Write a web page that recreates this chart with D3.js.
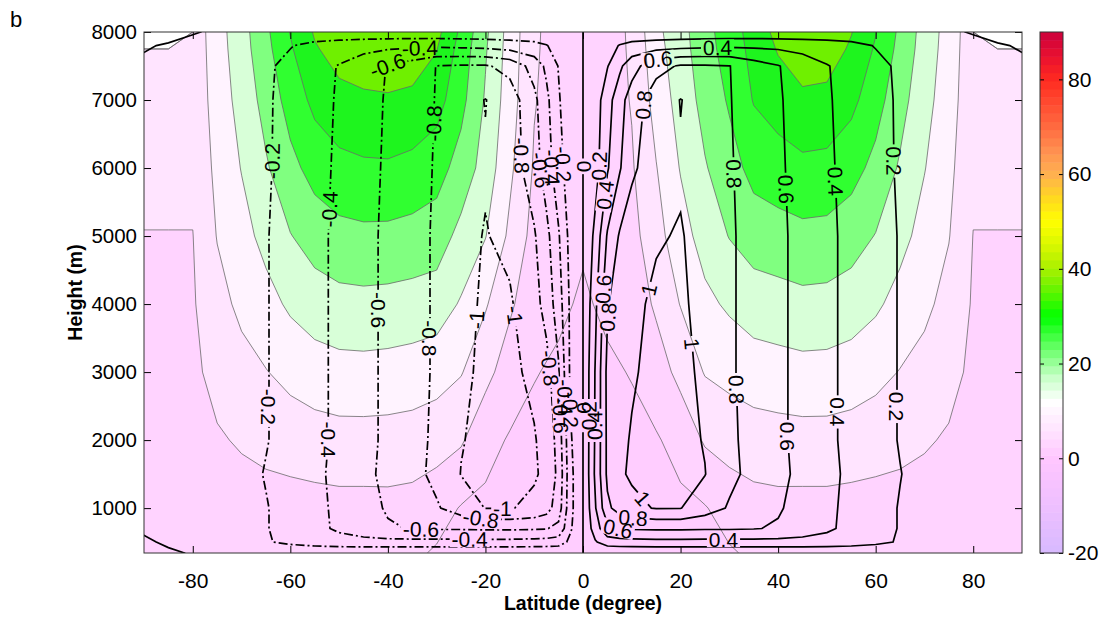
<!DOCTYPE html>
<html>
<head>
<meta charset="utf-8">
<script src="https://cdn.jsdelivr.net/npm/d3@7"></script>
<style>
body { margin: 0; background: #fff; }
text { font-family: "Liberation Sans", Arial, Helvetica, sans-serif; fill: #000; }
</style>
</head>
<body>
<div id="chart"></div>
<script>
// ---------------- values ----------------

// coloured field: grid every 5 degrees, rows from the ground up
const uLats = [-90,-85,-80,-75,-70,-65,-60,-55,-50,-45,-40,-35,-30,-25,-20,-15,-10,-5,0,
               5,10,15,20,25,30,35,40,45,50,55,60,65,70,75,80,85,90];
const uHeights = [340, 1000, 2000, 3000, 4000, 5000, 6000, 7000, 7750, 8000];
const uGrid = [
  [0.4,0.4,0.5,0.8,1,1.2,1.3,1.4,1.5,1.5,1.2,0.8,-0.5,-1.2,-1.8,-2.5,-3.5,-4.5,-6,
   -4.5,-3.5,-2.5,-1.8,-1.2,-0.5,0.8,1.2,1.5,1.5,1.4,1.3,1.2,1,0.8,0.5,0.4,0.4],
  [1.3,1.3,1.5,2,2.6,3,3.2,3.3,3.5,3.5,3.6,3.3,2,-0.3,-0.9,-1.5,-2.3,-3.5,-5,
   -3.5,-2.3,-1.5,-0.9,-0.3,2,3.3,3.6,3.5,3.5,3.3,3.2,3,2.6,2,1.5,1.3,1.3],
  [2.5,2.5,2.8,4.4,5.6,6.5,7.1,7.8,8.2,8.2,8.1,7.8,7,5.6,1.5,-0.4,-1,-2,-3.5,
   -2,-1,-0.4,1.5,5.6,7,7.7,8,8.2,8.2,7.8,7.1,6.5,5.6,4.4,2.8,2.5,2.5],
  [3.5,3.5,3.8,6.8,8.5,9.8,11.5,12.7,13.3,13.4,13.2,12.8,12,10.3,6.5,2.5,0.2,-0.6,-2,
   -0.6,0.2,2.5,6.5,10.3,11.4,12.5,13,13.4,13.3,12.7,11.5,9.8,8.5,6.8,3.8,3.5,3.5],
  [4.3,4.3,4.5,8.5,11,13.3,15.8,17.5,18.4,18.6,18.4,18,17.5,14.5,10.5,5.8,1.8,0.7,-0.5,
   0.7,1.8,5.8,10.2,13.8,15.8,17.5,18,18.6,18.4,17.5,15.8,13.3,11,8.5,4.5,4.3,4.3],
  [4.9,4.9,4.9,10.2,13.3,16.5,19.8,22.2,23.5,23.9,23.8,23.3,22.5,18.5,15.2,9,3.3,1.6,0.5,
   1.6,3.3,8.2,13,17,20.2,22.3,23,23.7,23.5,22.2,19.8,16.5,13.3,10.2,4.9,4.9,4.9],
  [6,6,6,11.2,15.2,19.4,23.6,26.8,28.5,29.2,29.3,28.5,27,23,18,11,4.5,2.2,1.2,
   2.2,4.5,9.8,15.3,19.6,23,26.6,27.8,28.8,28.5,26.8,23.6,19.4,15.2,11.2,6,6,6],
  [6.5,6.5,6.5,12.2,16.8,21.8,27,31.3,33.5,34.2,34.5,34,32,26.5,19.5,12.3,5.3,2.6,1.5,
   2.6,5.3,11.8,17,21.7,25.6,30.3,32.2,34,33.7,31.3,27,21.8,16.8,12.2,6.5,6.5,6.5],
  [6.6,6.6,6.6,12.8,17.8,23.5,29.4,34.5,37,37.9,38,37.6,35.2,28,20.5,12.8,5.7,2.75,1.5,
   2.75,5.7,13.2,17.9,23,27.2,31.5,35.4,37.8,37.4,34.3,29.4,23.5,17.8,12.8,6.6,6.6,6.6],
  [-1000,-1000,6.6,13,18,24,30.2,35.5,38.2,39,39,38.5,36.5,29,21,13,5.8,2.8,1.5,
   2.8,5.8,13.7,18.2,23.3,27.6,32,36.5,39,38.6,35.2,30.2,24,18,13,6.6,-1000,-1000]
];
const uLevels = [-8, 0, 5, 10, 15, 20, 25, 30, 35];
const uColors = ["#ffcdff", "#ffd3ff", "#ffe4ff", "#fff3ff", "#d8ffd8", "#80ff80", "#30ff30", "#1ef51e", "#6ff000"];

// line contours (streamfunction), finer near the equator
const psiLats = [-90,-85,-80,-75,-70,-65,-60,-55,-50,-45,-40,-35,-30,-25,-20,-15,-10,-7.5,-5,-2.5,0,
                 2.5,5,7.5,10,15,20,25,30,35,40,45,50,55,60,65,70,75,80,85,90];
const psiHeights = [340, 500, 700, 1000, 1500, 2000, 3000, 4000, 5000, 6000, 7000, 7500, 7800, 8000];
const psiGrid = [
  [0.04,0.01,-0.005,-0.01,-0.01,-0.01,-0.015,-0.02,-0.02,-0.02,-0.02,-0.02,-0.02,-0.02,-0.02,-0.02,-0.02,-0.02,-0.02,-0.01,0,
   0.01,0.02,0.02,0.02,0.02,0.02,0.02,0.02,0.02,0.02,0.02,0.02,0.02,0.02,0.02,0.015,0.01,0.01,0.01,0.01],
  [0.01,-0.01,-0.05,-0.08,-0.12,-0.18,-0.25,-0.3,-0.33,-0.34,-0.34,-0.34,-0.34,-0.34,-0.34,-0.34,-0.33,-0.32,-0.3,-0.15,0,
   0.18,0.3,0.32,0.33,0.34,0.34,0.34,0.34,0.34,0.34,0.34,0.33,0.3,0.25,0.18,0.12,0.08,0.05,0.03,0.02],
  [-0.01,-0.03,-0.05,-0.09,-0.13,-0.19,-0.27,-0.35,-0.43,-0.5,-0.58,-0.61,-0.62,-0.62,-0.63,-0.63,-0.62,-0.61,-0.55,-0.22,0,
   0.3,0.55,0.61,0.62,0.63,0.63,0.62,0.62,0.61,0.58,0.5,0.43,0.35,0.27,0.19,0.13,0.09,0.05,0.03,0.02],
  [-0.02,-0.03,-0.055,-0.09,-0.13,-0.19,-0.27,-0.35,-0.44,-0.53,-0.62,-0.7,-0.78,-0.9,-1.005,-1.01,-0.96,-0.88,-0.7,-0.25,0,
   0.38,0.76,0.88,0.96,1.01,1.005,0.9,0.78,0.7,0.62,0.53,0.44,0.35,0.27,0.19,0.13,0.09,0.055,0.03,0.02],
  [-0.02,-0.035,-0.06,-0.095,-0.14,-0.21,-0.28,-0.36,-0.45,-0.55,-0.65,-0.74,-0.85,-1.005,-1.05,-1.05,-1.02,-0.96,-0.75,-0.25,0,
   0.43,0.84,0.98,1.02,1.05,1.05,1.005,0.85,0.74,0.65,0.55,0.45,0.36,0.28,0.205,0.14,0.095,0.06,0.035,0.02],
  [-0.02,-0.03,-0.055,-0.09,-0.13,-0.19,-0.27,-0.35,-0.44,-0.54,-0.64,-0.73,-0.84,-0.99,-1.05,-1.05,-1.01,-0.95,-0.72,-0.22,0,
   0.42,0.84,0.97,1.01,1.05,1.05,0.99,0.84,0.73,0.64,0.54,0.44,0.35,0.27,0.19,0.13,0.09,0.055,0.03,0.02],
  [-0.02,-0.03,-0.055,-0.09,-0.13,-0.19,-0.27,-0.35,-0.44,-0.54,-0.64,-0.72,-0.83,-0.96,-1.04,-1.03,-0.97,-0.88,-0.62,-0.15,0,
   0.41,0.85,0.95,0.985,1.04,1.04,0.97,0.83,0.72,0.64,0.54,0.44,0.35,0.27,0.19,0.13,0.09,0.055,0.03,0.02],
  [-0.02,-0.03,-0.055,-0.09,-0.13,-0.19,-0.27,-0.35,-0.44,-0.54,-0.64,-0.72,-0.83,-0.96,-1.02,-1.02,-0.88,-0.72,-0.5,-0.15,0,
   0.35,0.78,0.93,0.975,1.02,1.02,0.96,0.83,0.72,0.64,0.54,0.44,0.35,0.27,0.19,0.13,0.09,0.055,0.03,0.02],
  [-0.02,-0.03,-0.055,-0.09,-0.13,-0.19,-0.27,-0.35,-0.44,-0.54,-0.64,-0.72,-0.83,-0.955,-1.008,-0.96,-0.82,-0.66,-0.42,-0.12,0,
   0.25,0.62,0.82,0.92,0.99,1.008,0.955,0.83,0.72,0.64,0.54,0.44,0.35,0.27,0.19,0.13,0.09,0.055,0.03,0.02],
  [-0.02,-0.03,-0.05,-0.09,-0.13,-0.18,-0.26,-0.34,-0.43,-0.53,-0.63,-0.71,-0.82,-0.94,-0.985,-0.9,-0.7,-0.5,-0.28,-0.08,0,
   0.12,0.38,0.58,0.76,0.93,0.985,0.94,0.82,0.71,0.63,0.53,0.43,0.34,0.26,0.18,0.13,0.09,0.05,0.03,0.02],
  [-0.01,-0.02,-0.05,-0.08,-0.12,-0.18,-0.25,-0.33,-0.42,-0.52,-0.62,-0.7,-0.81,-0.93,-1.005,-0.9,-0.65,-0.45,-0.22,-0.06,0,
   0.1,0.32,0.52,0.7,0.9,1.005,0.93,0.81,0.7,0.62,0.52,0.42,0.33,0.25,0.18,0.12,0.08,0.05,0.02,0.01],
  [-0.01,-0.02,-0.04,-0.07,-0.11,-0.17,-0.25,-0.33,-0.41,-0.5,-0.61,-0.69,-0.805,-0.82,-0.82,-0.74,-0.52,-0.36,-0.19,-0.06,0,
   0.06,0.19,0.36,0.52,0.74,0.82,0.82,0.805,0.69,0.61,0.5,0.41,0.33,0.25,0.17,0.11,0.07,0.04,0.02,0.01],
  [0.005,-0.005,-0.02,-0.05,-0.09,-0.14,-0.19,-0.26,-0.3,-0.33,-0.35,-0.36,-0.36,-0.35,-0.33,-0.3,-0.26,-0.21,-0.12,-0.04,0,
   0.04,0.12,0.21,0.26,0.3,0.33,0.35,0.36,0.36,0.35,0.33,0.3,0.26,0.19,0.14,0.09,0.05,0.02,0.005,-0.005],
  [0.04,0.02,0.005,-0.01,-0.02,-0.03,-0.04,-0.05,-0.05,-0.05,-0.05,-0.05,-0.05,-0.05,-0.05,-0.05,-0.05,-0.04,-0.03,-0.01,0,
   0.01,0.03,0.04,0.05,0.05,0.05,0.05,0.05,0.05,0.05,0.05,0.05,0.05,0.04,0.03,0.02,0.01,-0.005,-0.02,-0.04]
];
const psiLevels = [-1, -0.8, -0.6, -0.4, -0.2, 0, 0.2, 0.4, 0.6, 0.8, 1];

// axes and colour bar
const xTicks = [-80, -60, -40, -20, 0, 20, 40, 60, 80];
const yTicks = [1000, 2000, 3000, 4000, 5000, 6000, 7000, 8000];
const cbTicks = [-20, 0, 20, 40, 60, 80];
const cbStops  = [-20, -10, 0, 5, 12, 17, 21, 25, 30, 35, 40, 45, 50, 55, 60, 65, 70, 75, 80, 85, 90];
const cbColors = ["#d7b9ff","#eebfff","#ffc6ff","#ffdfff","#ffffff","#c9ffc9","#8cff8c","#4cff4c","#00ff00","#5cf500",
                  "#a8f000","#d8f800","#ffff00","#ffd820","#ffb050","#ff9050","#ff6a40","#ff4a30","#ff2a20","#e81030","#cc003c"];

// ---------------- layout ----------------
const W = 1104, H = 623;
const plot = {left: 144, right: 1022, top: 32, bottom: 553};
const bar = {left: 1040, right: 1063};

const x = d3.scaleLinear().domain([-90, 90]).range([plot.left, plot.right]);
const y = d3.scaleLinear().domain([340, 8000]).range([plot.bottom, plot.top]);
const cbY = d3.scaleLinear().domain([-20, 90]).range([plot.bottom, plot.top]);
const cmap = d3.scaleLinear().domain(cbStops).range(cbColors).interpolate(d3.interpolateRgb);

const svg = d3.select("#chart").append("svg").attr("width", W).attr("height", H);
const defs = svg.append("defs");
defs.append("clipPath").attr("id", "plotclip").append("rect")
    .attr("x", plot.left).attr("y", plot.top)
    .attr("width", plot.right - plot.left).attr("height", plot.bottom - plot.top);

// contour a (lat x height) grid; the grid is padded by one cell so rings close outside the frame
function gridContours(lats, heights, grid, levels) {
	let n = lats.length, m = heights.length, N = n + 2, M = m + 2;
	let values = new Array(N * M);
	for (let j = 0; j < M; j++) {
		let row = grid[Math.min(Math.max(j - 1, 0), m - 1)];
		for (let i = 0; i < N; i++) values[j * N + i] = row[Math.min(Math.max(i - 1, 0), n - 1)];
	}
	let gx = d3.scaleLinear().domain(lats.map((d, i) => i + 1.5)).range(lats);
	let gy = d3.scaleLinear().domain(heights.map((d, j) => j + 1.5)).range(heights);
	return d3.contours().size([N, M]).thresholds(levels)(values).map(c => ({
		value: c.value,
		rings: c.coordinates.flatMap(poly => poly.map(ring => ring.map(p => [x(gx(p[0])), y(gy(p[1]))])))
	}));
}

function ringsPath(rings) {
	return rings.map(r => "M" + r.map(p => p[0].toFixed(1) + "," + p[1].toFixed(1)).join("L") + "Z").join("");
}

const plotG = svg.append("g").attr("clip-path", "url(#plotclip)");

// filled field
let bands = gridContours(uLats, uHeights, uGrid, uLevels);
plotG.append("g").selectAll("path")
    .data(bands)
    .enter().append("path")
    .attr("d", d => ringsPath(d.rings))
    .attr("fill", (d, i) => uColors[i])
    .attr("stroke", "none");
plotG.append("g").selectAll("path")
    .data(bands.filter(d => d.value >= 0))
    .enter().append("path")
    .attr("d", d => ringsPath(d.rings))
    .attr("fill", "none")
    .attr("stroke", "#6a6a6a")
    .attr("stroke-width", 0.8);

// streamfunction lines
let lines = gridContours(psiLats, psiHeights, psiGrid, psiLevels);

// inline labels along each line (MATLAB clabel style)
const labelSize = 21;
let labels = [];
function labelWidth(t) {
	let w = 0;
	for (let ch of t) w += ch === "." ? 0.278 : ch === "-" ? 0.333 : 0.556;
	return w * labelSize;
}
function placeLabels(ring, text) {
	let inside = p => p[0] > plot.left + 14 && p[0] < plot.right - 14 && p[1] > plot.top + 11 && p[1] < plot.bottom - 11;
	let runs = [], cur = [];
	ring.forEach(p => {
		if (inside(p)) cur.push(p);
		else { if (cur.length > 1) runs.push(cur); cur = []; }
	});
	if (cur.length > 1) runs.push(cur);
	runs.forEach(run => {
		let cum = [0];
		for (let i = 1; i < run.length; i++)
			cum.push(cum[i - 1] + Math.hypot(run[i][0] - run[i - 1][0], run[i][1] - run[i - 1][1]));
		let L = cum[cum.length - 1];
		if (L < 70) return;
		let k = Math.max(1, Math.round(L / 235));
		for (let q = 0; q < k; q++) {
			let s = L * (q + 0.5) / k;
			let i = d3.bisectLeft(cum, s);
			if (i < 1) i = 1;
			let a = run[i - 1], b = run[i];
			let f = (s - cum[i - 1]) / ((cum[i] - cum[i - 1]) || 1);
			let ang = Math.atan2(b[1] - a[1], b[0] - a[0]) * 180 / Math.PI;
			if (ang > 90) ang -= 180;
			if (ang < -90) ang += 180;
			labels.push({x: a[0] + f * (b[0] - a[0]), y: a[1] + f * (b[1] - a[1]), a: ang, t: text, w: labelWidth(text) + 4});
		}
	});
}
lines.forEach(c => {
	let txt = String(Math.round(c.value * 10) / 10);
	c.rings.forEach(r => placeLabels(r, txt));
});

// gaps in the lines under the labels
const gap = defs.append("mask").attr("id", "gapmask").attr("maskUnits", "userSpaceOnUse")
    .attr("x", 0).attr("y", 0).attr("width", W).attr("height", H);
gap.append("rect").attr("width", W).attr("height", H).attr("fill", "#fff");
gap.selectAll("rect.cut")
    .data(labels)
    .enter().append("rect")
    .attr("class", "cut")
    .attr("x", d => -d.w / 2).attr("y", -8)
    .attr("width", d => d.w).attr("height", 16)
    .attr("transform", d => "translate(" + d.x + "," + d.y + ") rotate(" + d.a + ")")
    .attr("fill", "#000");

plotG.append("g").attr("mask", "url(#gapmask)").selectAll("path")
    .data(lines)
    .enter().append("path")
    .attr("d", d => ringsPath(d.rings))
    .attr("fill", "none")
    .attr("stroke", "#000")
    .attr("stroke-width", 1.7)
    .attr("stroke-dasharray", d => d.value < 0 ? "9,3,2,3" : null);

plotG.append("g").selectAll("text")
    .data(labels)
    .enter().append("text")
    .attr("transform", d => "translate(" + d.x + "," + d.y + ") rotate(" + d.a + ")")
    .attr("text-anchor", "middle")
    .attr("dy", "0.36em")
    .attr("font-size", labelSize)
    .text(d => d.t);

// frame and ticks
function styleAxis(g, size) {
	g.select(".domain").remove();
	g.selectAll("line").attr("stroke", "#000");
	g.selectAll("text").attr("font-size", size).attr("font-family", null).attr("fill", "#000");
}
svg.append("g").attr("transform", "translate(0," + plot.bottom + ")")
    .call(d3.axisBottom(x).tickValues(xTicks).tickSize(-7).tickPadding(20).tickFormat(d => String(d)))
    .call(g => styleAxis(g, 21));
svg.append("g").attr("transform", "translate(0," + plot.top + ")")
    .call(d3.axisTop(x).tickValues(xTicks).tickSize(-7).tickFormat(""))
    .call(g => styleAxis(g, 21));
svg.append("g").attr("transform", "translate(" + plot.left + ",0)")
    .call(d3.axisLeft(y).tickValues(yTicks).tickSize(-7).tickPadding(7).tickFormat(d => String(d)))
    .call(g => styleAxis(g, 20.5));
svg.append("g").attr("transform", "translate(" + plot.right + ",0)")
    .call(d3.axisRight(y).tickValues(yTicks).tickSize(-7).tickFormat(""))
    .call(g => styleAxis(g, 20.5));
svg.append("rect")
    .attr("x", plot.left).attr("y", plot.top)
    .attr("width", plot.right - plot.left).attr("height", plot.bottom - plot.top)
    .attr("fill", "none").attr("stroke", "#333").attr("stroke-width", 1);

// colour bar
const nSteps = 64;
const steps = d3.range(nSteps).map(i => -20 + i * 110 / nSteps);
svg.append("g").selectAll("rect")
    .data(steps)
    .enter().append("rect")
    .attr("x", bar.left)
    .attr("y", d => cbY(d + 110 / nSteps))
    .attr("width", bar.right - bar.left)
    .attr("height", d => cbY(d) - cbY(d + 110 / nSteps) + 0.5)
    .attr("fill", d => cmap(d + 55 / nSteps));
svg.append("g").attr("transform", "translate(" + bar.right + ",0)")
    .call(d3.axisRight(cbY).tickValues(cbTicks).tickSize(-4).tickPadding(5).tickFormat(d => String(d)))
    .call(g => styleAxis(g, 21));
svg.append("g").attr("transform", "translate(" + bar.left + ",0)")
    .call(d3.axisLeft(cbY).tickValues(cbTicks).tickSize(-4).tickFormat(""))
    .call(g => styleAxis(g, 21));
svg.append("rect")
    .attr("x", bar.left).attr("y", plot.top)
    .attr("width", bar.right - bar.left).attr("height", plot.bottom - plot.top)
    .attr("fill", "none").attr("stroke", "#333").attr("stroke-width", 1);

// titles
svg.append("text").attr("x", (plot.left + plot.right) / 2).attr("y", 610)
    .attr("text-anchor", "middle").attr("font-size", 19.5).attr("font-weight", "bold")
    .text("Latitude (degree)");
svg.append("text").attr("transform", "translate(82," + ((plot.top + plot.bottom) / 2) + ") rotate(-90)")
    .attr("text-anchor", "middle").attr("font-size", 19.5).attr("font-weight", "bold")
    .text("Height (m)");
svg.append("text").attr("x", 10).attr("y", 27).attr("font-size", 22).text("b");
</script>
</body>
</html>
